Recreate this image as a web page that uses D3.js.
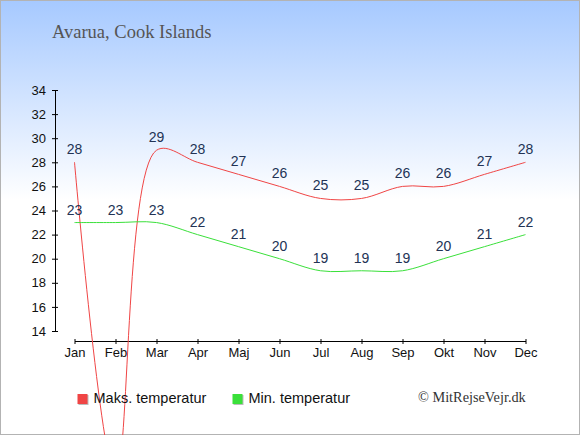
<!DOCTYPE html>
<html lang="da">

<head>
  <meta charset="UTF-8">
  <title>Avarua, Cook Islands</title>
  <style>
    body {
      margin: 0;
      background: #fff;
    }

    svg text {
      font-family: 'Liberation Sans', Arial, sans-serif;
    }

    .serif {
      font-family: 'Liberation Serif', 'Times New Roman', serif !important;
    }
  </style>
</head>

<body>
  <div id="chart"></div>

  <script src="https://cdnjs.cloudflare.com/ajax/libs/d3/7.8.5/d3.min.js"></script>
  <script>
    // Chart data
    let months = ['Jan', 'Feb', 'Mar', 'Apr', 'Maj', 'Jun', 'Jul', 'Aug', 'Sep', 'Okt', 'Nov', 'Dec'];
    let maxTemps = [28, 2, 29, 28, 27, 26, 25, 25, 26, 26, 27, 28];
    let minTemps = [23, 23, 23, 22, 21, 20, 19, 19, 19, 20, 21, 22];
    let yTicks = [14, 16, 18, 20, 22, 24, 26, 28, 30, 32, 34];

    let series = [
      { name: 'Maks. temperatur', values: maxTemps, color: '#f04545' },
      { name: 'Min. temperatur', values: minTemps, color: '#3ae03a' }
    ];

    let width = 580;
    let height = 435;

    let svg = d3.select('#chart').append('svg')
      .attr('width', width)
      .attr('height', height);

    // Background gradient, blue at the top fading to white
    let grad = svg.append('defs').append('linearGradient')
      .attr('id', 'bg')
      .attr('x1', 0).attr('y1', 0)
      .attr('x2', 0).attr('y2', 1);
    grad.append('stop').attr('offset', '0%').attr('stop-color', '#a6c9ff');
    grad.append('stop').attr('offset', '46%').attr('stop-color', '#ffffff');
    grad.append('stop').attr('offset', '100%').attr('stop-color', '#ffffff');

    svg.append('rect')
      .attr('x', 0.5).attr('y', 0.5)
      .attr('width', width - 1).attr('height', height - 1)
      .attr('fill', 'url(#bg)')
      .attr('stroke', '#b3b3b3');

    // Title
    svg.append('text')
      .attr('class', 'serif')
      .attr('x', 52)
      .attr('y', 38)
      .style('font-size', '18.5px')
      .attr('fill', '#555')
      .text('Avarua, Cook Islands');

    let xScale = d3.scalePoint()
      .domain(months)
      .range([74.5, 525.5]);

    let yScale = d3.scaleLinear()
      .domain([14, 34])
      .range([331, 90]);

    // Axes
    let yAxisGroup = svg.append('g')
      .attr('transform', 'translate(55, 0)')
      .call(d3.axisLeft(yScale).tickValues(yTicks).tickSize(3).tickSizeOuter(0).tickPadding(6).tickFormat(d3.format('d')));
    yAxisGroup.selectAll('.tick line').attr('x1', 3).attr('x2', -3);

    let xAxisGroup = svg.append('g')
      .attr('transform', 'translate(0, 341)')
      .call(d3.axisBottom(xScale).tickSize(3).tickSizeOuter(0).tickPadding(4));
    xAxisGroup.selectAll('.tick line').attr('y1', -2).attr('y2', 3);

    svg.selectAll('.tick text')
      .attr('font-family', null)
      .style('font-size', '13px')
      .attr('fill', '#111');
    svg.selectAll('.domain, .tick line').attr('stroke', '#000');

    // Lines
    let line = d3.line()
      .x((d, i) => xScale(months[i]))
      .y(d => yScale(d))
      .curve(d3.curveCatmullRom);

    series.forEach(s => {
      svg.append('path')
        .datum(s.values)
        .attr('fill', 'none')
        .attr('stroke', s.color)
        .attr('stroke-width', 1)
        .attr('d', line);

      // value labels, only where the point sits inside the plot
      let labelled = s.values
        .map((v, i) => ({ v: v, m: months[i] }))
        .filter(d => d.v >= yScale.domain()[0]);

      svg.append('g')
        .selectAll('text')
        .data(labelled)
        .enter()
        .append('text')
        .attr('x', d => xScale(d.m))
        .attr('y', d => yScale(d.v) - 8)
        .attr('text-anchor', 'middle')
        .style('font-size', '14px')
        .attr('fill', '#223355')
        .text(d => d.v);
    });

    // Legend
    let legend = svg.selectAll('.legend')
      .data(series)
      .enter()
      .append('g')
      .attr('class', 'legend')
      .attr('transform', (d, i) => `translate(${77.5 + i * 155}, 394)`);

    legend.append('rect')
      .attr('x', 1).attr('y', 1)
      .attr('width', 10).attr('height', 10)
      .attr('fill', '#bbb');

    legend.append('rect')
      .attr('width', 10).attr('height', 10)
      .attr('fill', d => d.color);

    legend.append('text')
      .attr('x', 16)
      .attr('y', 9)
      .style('font-size', '14.5px')
      .attr('fill', '#111')
      .text(d => d.name);

    // Credit
    svg.append('text')
      .attr('class', 'serif')
      .attr('x', 418)
      .attr('y', 402)
      .style('font-size', '14.3px')
      .attr('fill', '#333')
      .text('© MitRejseVejr.dk');
  </script>
</body>

</html>
